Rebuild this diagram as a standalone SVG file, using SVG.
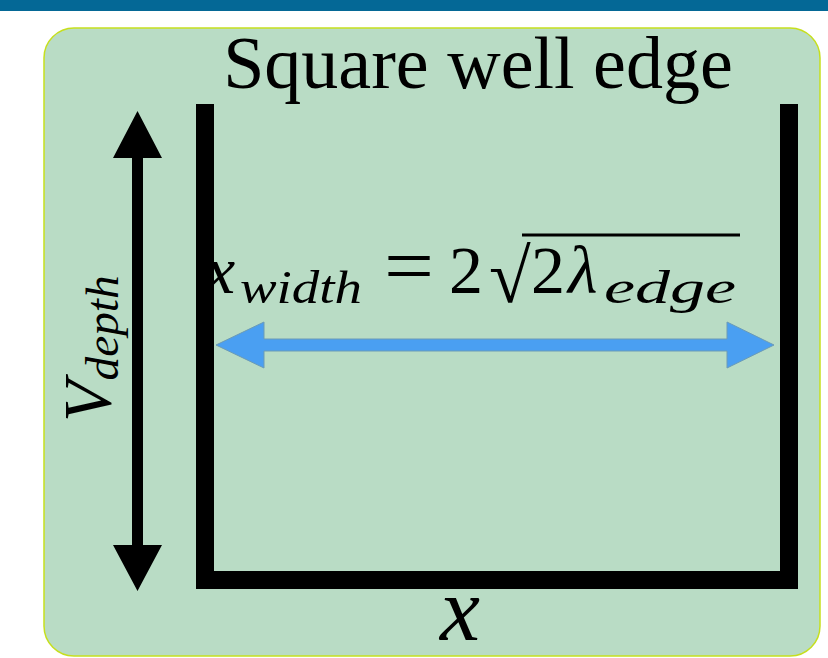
<svg xmlns="http://www.w3.org/2000/svg" width="828" height="658" viewBox="0 0 828 658">
<style>
text{font-family:'Liberation Serif','DejaVu Serif','Noto Serif',serif;fill:#000}
.it{font-style:italic}
</style>
<rect x="0" y="0" width="828" height="11" fill="#046896"/>
<g id="panel">
<rect x="44" y="28" width="776" height="628" rx="30" ry="30" fill="#b9dcc5" stroke="#c6df1e" stroke-width="1.5"/>
<text x="478" y="88" font-size="74" text-anchor="middle">Square well edge</text>
</g>
<g id="well">
<path d="M205,104 V580 H789 V104" fill="none" stroke="#000" stroke-width="18"/>
</g>
<g id="connectors">
<polygon id="depth-arrow" points="137.5,111 162,158 143,158 143,545 162,545 137.5,591 113,545 132,545 132,158 113,158" fill="#000"/>
<polygon id="width-arrow" points="216,345 264,322 264,339 727,339 727,322 774,345 727,368 727,351 264,351 264,368" fill="#4a9ff2" stroke="#6c9bb5" stroke-width="1"/>
</g>
<g id="formula">
<text class="it" x="205" y="293" font-size="68">x</text>
<text class="it" x="240" y="303" font-size="46" textLength="122" lengthAdjust="spacingAndGlyphs">width</text>
<text x="384" y="293" font-size="80" textLength="50" lengthAdjust="spacingAndGlyphs">=</text>
<text x="449" y="293" font-size="68">2</text>
<text x="489" y="302" font-size="76">√</text>
<line x1="522" y1="235" x2="740" y2="235" stroke="#000" stroke-width="3"/>
<text x="531" y="293" font-size="68">2</text>
<text class="it" x="568" y="293" font-size="68">λ</text>
<text class="it" x="604" y="303" font-size="46" textLength="132" lengthAdjust="spacingAndGlyphs">edge</text>
</g>
<g id="vdepth-label">
<text class="it" transform="translate(110,422) rotate(-90)" font-size="68">V<tspan font-size="46" dy="8" textLength="105" lengthAdjust="spacingAndGlyphs">depth</tspan></text>
</g>
<g id="x-label">
<text class="it" x="460" y="640" font-size="90" text-anchor="middle">x</text>
</g>
</svg>
